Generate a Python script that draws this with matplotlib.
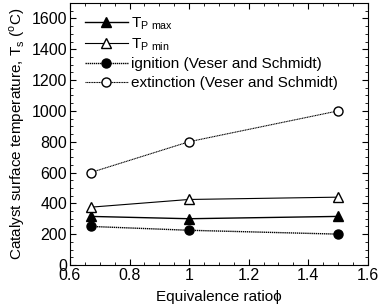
import matplotlib
matplotlib.use("Agg")
import matplotlib.pyplot as plt
from matplotlib.ticker import MultipleLocator

plt.rcParams['font.family'] = ['Liberation Sans', 'DejaVu Sans']

phi = [0.67, 1.0, 1.5]
tp_max = [315, 300, 315]
tp_min = [375, 425, 440]
ignition = [250, 225, 200]
extinction = [600, 800, 1000]

fig = plt.figure(figsize=(3.8, 3.07), dpi=100)
ax = fig.add_axes([0.184, 0.137, 0.784, 0.853])

ax.plot(phi, tp_max, '-', color='black', lw=1.0, marker='^', ms=6.5,
        mfc='black', mec='black', label=r'T$_{\mathregular{P\ max}}$')
ax.plot(phi, tp_min, '-', color='black', lw=0.8, marker='^', ms=6.5,
        mfc='white', mec='black', label=r'T$_{\mathregular{P\ min}}$')
ax.plot(phi, ignition, linestyle=(0, (1, 0.5)), color='black', lw=1.0, marker='o', ms=6.5,
        mfc='black', mec='black', label='ignition (Veser and Schmidt)')
ax.plot(phi, extinction, linestyle=(0, (1, 0.5)), color='black', lw=0.8, marker='o', ms=6.5,
        mfc='white', mec='black', label='extinction (Veser and Schmidt)')

ax.set_xlim(0.6, 1.6)
ax.set_ylim(0, 1700)
ax.xaxis.set_major_locator(MultipleLocator(0.2))
ax.xaxis.set_minor_locator(MultipleLocator(0.05))
ax.yaxis.set_major_locator(MultipleLocator(200))
ax.yaxis.set_minor_locator(MultipleLocator(50))
ax.tick_params(which='both', direction='in', top=True, right=True, labelsize=11.5, pad=2)
ax.tick_params(which='major', length=4)
ax.tick_params(which='minor', length=2)
ax.set_xticks([0.6, 0.8, 1.0, 1.2, 1.4, 1.6])
ax.set_xticklabels(['0.6', '0.8', '1', '1.2', '1.4', '1.6'])

ax.set_xlabel('Equivalence ratio\u03d5', fontsize=11, labelpad=5)
ax.set_ylabel(r'Catalyst surface temperature, T$_\mathregular{s}$ ($^\mathregular{o}$C)', fontsize=11, labelpad=3)

ax.legend(loc='upper left', frameon=False, fontsize=11, handlelength=2.8,
          borderaxespad=0, borderpad=0, labelspacing=0.3, handletextpad=0.2,
          bbox_to_anchor=(0.05, 0.955))

fig.savefig('out.png', dpi=100)
